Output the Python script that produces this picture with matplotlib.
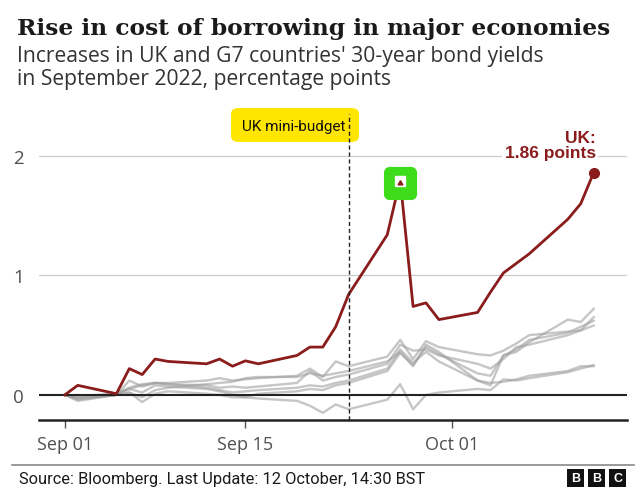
import pandas as pd
import matplotlib.pyplot as plt
import matplotlib.dates as mdates
from matplotlib.patches import FancyBboxPatch
from matplotlib.markers import MarkerStyle

# trading days, Sep 1 - Oct 12 2022
dates = pd.to_datetime([
    '2022-09-01', '2022-09-02', '2022-09-05', '2022-09-06', '2022-09-07',
    '2022-09-08', '2022-09-09', '2022-09-12', '2022-09-13', '2022-09-14',
    '2022-09-15', '2022-09-16', '2022-09-19', '2022-09-20', '2022-09-21',
    '2022-09-22', '2022-09-23', '2022-09-26', '2022-09-27', '2022-09-28',
    '2022-09-29', '2022-09-30', '2022-10-03', '2022-10-04', '2022-10-05',
    '2022-10-06', '2022-10-07', '2022-10-10', '2022-10-11', '2022-10-12'])

uk = [0, 0.08, 0.01, 0.22, 0.17, 0.30, 0.28, 0.26, 0.30, 0.24, 0.285, 0.26,
      0.33, 0.40, 0.40, 0.57, 0.84, 1.34, 1.80, 0.74, 0.77, 0.63, 0.69, 0.86,
      1.02, 1.10, 1.18, 1.47, 1.60, 1.86]

g7_a = [0, -0.03, 0.00, 0.02, -0.06, 0.01, 0.03, 0.01, 0.00, -0.02, -0.02, -0.03,
        -0.05, -0.09, -0.15, -0.08, -0.12, -0.04, 0.09, -0.12, 0.00, 0.02, 0.05,
        0.04, 0.13, 0.12, 0.14, 0.19, 0.22, 0.25]
g7_b = [0, -0.02, 0.01, 0.05, 0.08, 0.10, 0.09, 0.06, 0.04, 0.02, 0.03, 0.04,
        0.06, 0.08, 0.07, 0.10, 0.12, 0.22, 0.38, 0.27, 0.36, 0.28, 0.12, 0.10,
        0.11, 0.13, 0.16, 0.20, 0.24, 0.24]
g7_c = [0, -0.04, 0.00, 0.12, 0.07, 0.10, 0.10, 0.12, 0.14, 0.12, 0.13, 0.14,
        0.16, 0.22, 0.15, 0.28, 0.24, 0.32, 0.46, 0.30, 0.45, 0.40, 0.34, 0.33,
        0.37, 0.43, 0.50, 0.53, 0.54, 0.58]
g7_d = [0, -0.05, 0.00, 0.05, 0.02, 0.08, 0.07, 0.05, 0.03, 0.00, -0.02, 0.01,
        0.03, 0.05, 0.04, 0.08, 0.10, 0.20, 0.35, 0.25, 0.40, 0.34, 0.18, 0.16,
        0.33, 0.36, 0.44, 0.63, 0.61, 0.72]
g7_e = [0, -0.01, 0.01, 0.06, 0.09, 0.10, 0.09, 0.08, 0.06, 0.07, 0.06, 0.07,
        0.10, 0.20, 0.12, 0.15, 0.17, 0.26, 0.42, 0.37, 0.38, 0.33, 0.26, 0.22,
        0.30, 0.40, 0.42, 0.50, 0.54, 0.65]
g7_f = [0, -0.03, 0.00, 0.02, -0.02, 0.04, 0.06, 0.09, 0.10, 0.11, 0.14, 0.15,
        0.15, 0.18, 0.16, 0.18, 0.20, 0.28, 0.36, 0.24, 0.42, 0.36, 0.12, 0.08,
        0.33, 0.38, 0.46, 0.52, 0.57, 0.62]

budget_day = pd.Timestamp('2022-09-23')
tick_days = pd.to_datetime(['2022-09-01', '2022-09-15', '2022-10-01'])

red = '#8a1c1c'
grey_txt = '#505050'
sans = 'Open Sans'

fig = plt.figure(figsize=(6.4, 5.02), dpi=100)
ax = fig.add_axes([39/640, 1-421/502, (627-39)/640, (421-115)/502])

for g in [g7_a, g7_b, g7_c, g7_d, g7_e, g7_f]:
    ax.plot(dates, g, color='#a0a0a0', lw=1.7, alpha=0.6, zorder=3)

ax.plot(dates, uk, color=red, lw=2, zorder=5)
ax.plot(dates[-1], uk[-1], 'o', color=red, ms=7, zorder=6)

ax.set_xlim(pd.Timestamp('2022-08-30'), pd.Timestamp('2022-10-14 14:00'))
ax.set_ylim(-0.21, 2.35)

ax.axhline(0, color='#222222', lw=1.5, zorder=4)
for v in [1, 2]:
    ax.axhline(v, color='#cccccc', lw=0.9, zorder=1)
ax.axvline(budget_day, color='#222222', lw=1, ls=(0, (3, 2)), zorder=8)

for s in ['top', 'right', 'left']:
    ax.spines[s].set_visible(False)
ax.spines['bottom'].set_color('#222222')
ax.spines['bottom'].set_linewidth(1.8)

ax.set_yticks([0, 1, 2])
ax.set_yticklabels(['0', '1', '2'], fontsize=13.5, color=grey_txt, family=sans)
ax.tick_params(axis='y', length=0, pad=11)
ax.set_xticks(tick_days)
ax.xaxis.set_major_formatter(mdates.DateFormatter('%b %d'))
ax.tick_params(axis='x', length=6, width=1, color='#555555', pad=5,
               labelsize=13, labelcolor=grey_txt)
for lab in ax.get_xticklabels():
    lab.set_family(sans)

# yellow highlighter behind the mini-budget label
hl = FancyBboxPatch((231/640, 1-143/502), 128/640, 34/502,
                    boxstyle='round,pad=0,rounding_size=0.012',
                    fc='#ffe600', ec='none', transform=fig.transFigure, zorder=0.5,
                    clip_on=False)
ax.add_artist(hl)
ax.text(budget_day - pd.Timedelta(hours=6), 2.25, 'UK mini-budget', ha='right', va='center',
        fontsize=11, family='Roboto', color='#111111', zorder=7)
ax.text(dates[-1] + pd.Timedelta(hours=4), 2.09, 'UK:\n1.86 points', ha='right', va='center',
        fontsize=12.5, fontweight='bold', family='Liberation Sans', color=red,
        linespacing=1.0, zorder=7,
        bbox=dict(boxstyle='square,pad=0.15', fc='white', ec='none'))

# green highlight round the spike (day before the biggest fall)
spike = max(range(len(uk) - 1), key=lambda i: uk[i] - uk[i + 1])
blob = MarkerStyle('s', joinstyle='round')
ax.plot(dates[spike], uk[spike] - 0.03, marker=blob, ms=16, mfc='#3ddc1a', mec='#3ddc1a',
        mew=8, zorder=8.5)
ax.plot(dates[spike], uk[spike] - 0.01, 's', ms=7, mfc='white', mec='white', zorder=9)
ax.plot(dates[spike], uk[spike] - 0.03, marker=(3, 0, 0), ms=4, color=red, zorder=10)

# titles
fig.text(17/640, 1-35/502, 'Rise in cost of borrowing in major economies', fontsize=16.85,
         fontweight='bold', family='DejaVu Serif', color='#1a1a1a', va='baseline')
fig.text(17/640, 1-62/502, "Increases in UK and G7 countries' 30-year bond yields",
         fontsize=15.2, family=sans, color='#333333', va='baseline')
fig.text(17/640, 1-85/502, 'in September 2022, percentage points',
         fontsize=15.2, family=sans, color='#333333', va='baseline')

# footer
fig.add_artist(plt.Line2D([12/640, 634/640], [1-466/502, 1-466/502], color='#888888', lw=1.2))
fig.text(19/640, 1-484/502, 'Source: Bloomberg. Last Update: 12 October, 14:30 BST',
         fontsize=11.8, family='Roboto', color='#1a1a1a', va='baseline')
for i, letter in enumerate('BBC'):
    x0 = 567 + i * 21
    fig.add_artist(FancyBboxPatch((x0/640, 1-488/502), 17/640, 18/502, boxstyle='square,pad=0',
                                  fc='#111111', ec='none', transform=fig.transFigure))
    fig.text((x0 + 8.5)/640, 1-479/502, letter, ha='center', va='center', fontsize=9,
             fontweight='bold', family='Liberation Sans', color='white')

fig.savefig('out.png', dpi=100)
